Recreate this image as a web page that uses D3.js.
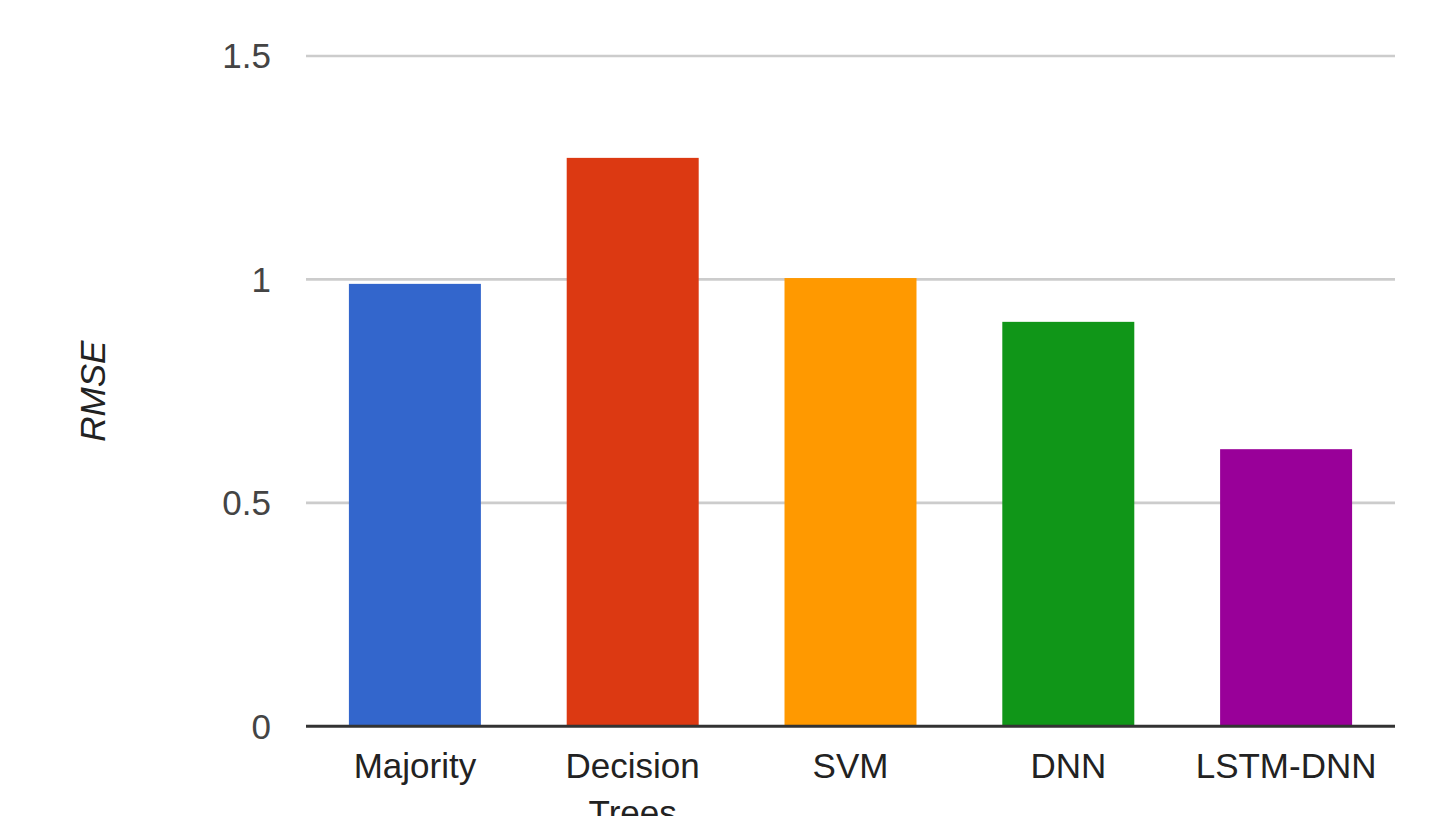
<!DOCTYPE html>
<html>
<head>
<meta charset="utf-8">
<script src="https://cdn.jsdelivr.net/npm/d3@7"></script>
<style>
  html, body { margin: 0; padding: 0; background: #fff; }
  svg { display: block; font-family: "Liberation Sans", Arial, sans-serif; }
</style>
</head>
<body>
<svg id="chart" width="1436" height="816"></svg>
<script>
// RMSE per model
const categories = ["Majority", "Decision Trees", "SVM", "DNN", "LSTM-DNN"];
const rmseValues = [0.99, 1.272, 1.003, 0.905, 0.62];
const barColors = ["#3366cc", "#dc3912", "#ff9900", "#109618", "#990099"];
const yTicks = [0, 0.5, 1, 1.5];
const yTickLabels = ["0", "0.5", "1", "1.5"];
const yAxisTitle = "RMSE";

const svg = d3.select("#chart");
const plot = { left: 306, right: 1395, top: 56, bottom: 726.2 };

const x = d3.scaleBand()
  .domain(categories)
  .range([plot.left, plot.right])
  .paddingInner(0.394)
  .paddingOuter(0.197);

const y = d3.scaleLinear()
  .domain([0, 1.5])
  .range([plot.bottom, plot.top]);

// horizontal gridlines
svg.append("g")
  .selectAll("line")
  .data(yTicks.filter(t => t > 0))
  .join("line")
  .attr("x1", plot.left)
  .attr("x2", plot.right)
  .attr("y1", d => y(d))
  .attr("y2", d => y(d))
  .attr("stroke", "#cccccc")
  .attr("stroke-width", 2.7);

// y tick labels
svg.append("g")
  .selectAll("text")
  .data(yTicks)
  .join("text")
  .attr("x", 271)
  .attr("y", d => y(d))
  .attr("dy", "0.355em")
  .attr("text-anchor", "end")
  .attr("font-size", 35)
  .attr("fill", "#444")
  .text((d, i) => yTickLabels[i]);

// bars
svg.append("g")
  .selectAll("rect")
  .data(categories)
  .join("rect")
  .attr("x", d => x(d))
  .attr("width", x.bandwidth())
  .attr("y", (d, i) => y(rmseValues[i]))
  .attr("height", (d, i) => y(0) - y(rmseValues[i]))
  .attr("fill", (d, i) => barColors[i]);

// baseline
svg.append("line")
  .attr("x1", plot.left)
  .attr("x2", plot.right)
  .attr("y1", y(0))
  .attr("y2", y(0))
  .attr("stroke", "#333333")
  .attr("stroke-width", 3);

// category labels (wrapped on the space for long names)
const catLabels = svg.append("g")
  .selectAll("text")
  .data(categories)
  .join("text")
  .attr("text-anchor", "middle")
  .attr("font-size", 35)
  .attr("fill", "#222");

catLabels.each(function(d) {
  const words = d === "Decision Trees" ? d.split(" ") : [d];
  const cx = x(d) + x.bandwidth() / 2;
  d3.select(this).selectAll("tspan")
    .data(words)
    .join("tspan")
    .attr("x", cx)
    .attr("y", (w, i) => 778 + i * 46.6)
    .text(w => w);
});

// y axis title
svg.append("text")
  .attr("transform", `translate(105, ${(plot.top + plot.bottom) / 2}) rotate(-90)`)
  .attr("text-anchor", "middle")
  .attr("font-size", 35)
  .attr("font-style", "italic")
  .attr("fill", "#222")
  .text(yAxisTitle);
</script>
</body>
</html>
